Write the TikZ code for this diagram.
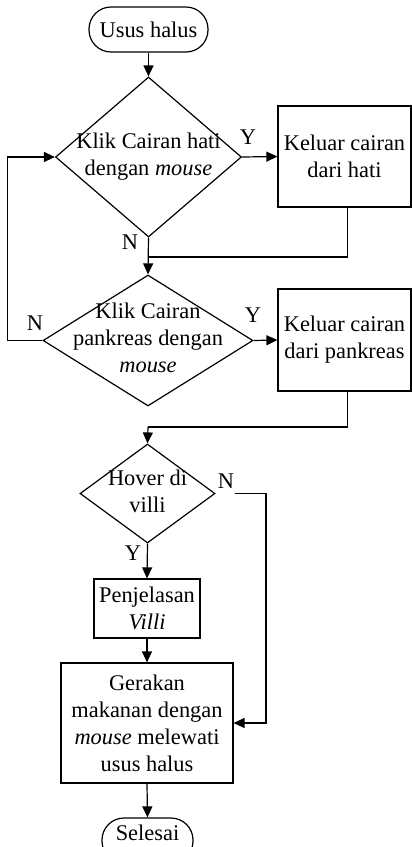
\documentclass[tikz,border=0pt]{standalone}
\usepackage{fontspec}
\setmainfont{Liberation Serif}
\usetikzlibrary{shapes.geometric,arrows.meta}
\newcommand\dtext[1]{\makebox[0pt]{\smash{\raisebox{-0.22em}{\begin{tabular}{@{}c@{}}#1\end{tabular}}}}}
\begin{document}
\begin{tikzpicture}[x=1pt,y=-1pt,
  every node/.style={font=\fontsize{22.4}{27}\selectfont},
  line/.style={line width=1.2pt},
  arr/.style={line width=1.2pt,-{Triangle[length=11pt,width=10pt]}},
  term/.style={draw,line width=1.2pt,rectangle,rounded corners=22pt,minimum height=45pt,inner sep=0pt},
  proc/.style={draw,line width=1.2pt,rectangle,inner sep=0pt,align=center},
  dec/.style={draw,line width=1.2pt,diamond,inner sep=0pt},
  lbl/.style={inner sep=1pt}
]
\useasboundingbox (0,0) rectangle (412,847);

\node[term,minimum width=119pt] (start) at (148.5,29.5) {Usus halus};
\node[dec,minimum width=186pt,minimum height=160pt] (d1) at (148.5,157) {\dtext{Klik Cairan hati\\dengan \textit{mouse}}};
\node[proc,minimum width=133pt,minimum height=101pt] (b1) at (344.5,156.5) {Keluar cairan\\dari hati};
\node[dec,minimum width=210pt,minimum height=131pt] (d2) at (148,340.5) {\dtext{Klik Cairan\\pankreas dengan\\\textit{mouse}}};
\node[proc,minimum width=133pt,minimum height=102pt] (b2) at (344.5,340) {Keluar cairan\\dari pankreas};
\node[dec,minimum width=135pt,minimum height=99pt] (d3) at (147.5,493.5) {\dtext{Hover di\\villi}};
\node[proc,minimum width=106pt,minimum height=59pt] (b3) at (147,608.5) {Penjelasan\\\textit{Villi}};
\node[proc,minimum width=172pt,minimum height=120pt] (b4) at (147,723) {Gerakan\\makanan dengan\\\textit{mouse} melewati\\usus halus};
\node[term,minimum width=91pt] (end) at (147.5,840.5) {\smash{Selesai}};

\node[lbl] (y1) at (248,137) {Y};
\node[lbl] (n1) at (130,242) {N};
\node[lbl] (y2) at (253,315) {Y};
\node[lbl] (n2) at (35,323) {N};
\node[lbl] (n3) at (226,481) {N};
\node[lbl] (y3) at (133,553) {Y};

\coordinate (j1) at (148,257);
\coordinate (j2) at (148,427);

\draw[arr] (start) -- (d1.north);
\draw[arr] (d1.east) -- (b1.west);
\draw[line] ([xshift=3pt]b1.south) |- (j1);
\draw[arr] (d1.south) -- (d2.north);
\draw[arr] (d2.west) -- ++(-35,0) |- (d1.west);
\draw[arr] (d2.east) -- (b2.west);
\draw[line] ([xshift=3pt]b2.south) |- (j2);
\draw[arr] (j2) -- (d3.north);
\draw[arr] (d3.south) -- (b3.north);
\draw[arr] (b3.south) -- (b4.north);
\draw[arr] ([xshift=19pt]d3.east) -- (266,493.5) |- (b4.east);
\draw[arr] (b4.south) -- (end.north);
\end{tikzpicture}
\end{document}
